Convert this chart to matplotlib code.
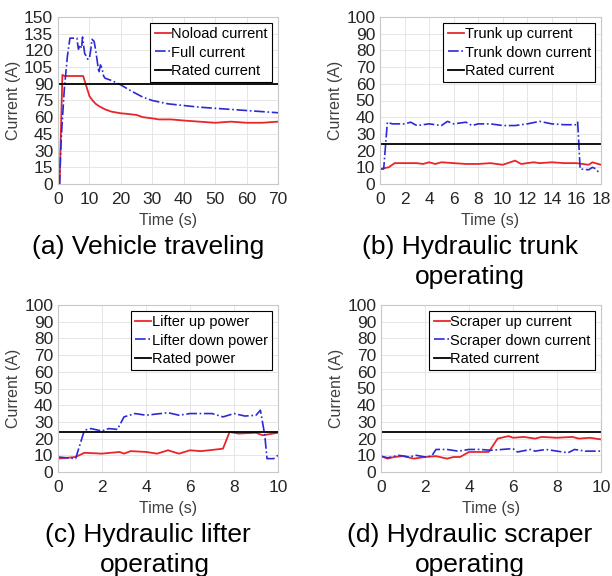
import numpy as np
import matplotlib.pyplot as plt

plt.rcParams['font.family'] = ['Liberation Sans', 'DejaVu Sans']

# (a) vehicle traveling
ta = [0, 0.5, 1.4, 2, 4, 6, 8, 9, 10, 11, 12, 13, 15, 17, 20, 22, 25, 27, 30, 32, 36, 40, 45, 50, 55, 60, 65, 70]
noload = [0, 0, 98, 97, 97, 97, 97, 88, 79, 75, 72, 70, 67, 65, 63.5, 63, 62, 60, 59, 58, 58, 57, 56, 55, 56, 55, 55, 56]
tfull = [0, 0.5, 1, 2, 3, 3.8, 5, 6, 6.5, 7, 7.5, 7.8, 8.5, 9, 9.5, 10, 10.5, 10.8, 11.5, 12, 12.5, 13, 13.5, 14, 14.5, 15, 17, 20, 23, 27, 30, 35, 40, 45, 50, 55, 60, 65, 70]
full = [0, 0, 40, 85, 115, 131, 131, 131, 121, 125, 122, 132, 117, 115, 112, 113, 122, 130, 128, 120, 110, 100, 107, 104, 97, 95, 93, 89, 84, 78, 75, 72, 70.5, 69, 68, 67, 66, 65, 64]

# (b) hydraulic trunk
tb_up = [0, 0.7, 1.2, 2, 3, 3.5, 4, 4.5, 5, 6, 7, 8, 9, 10, 11, 11.5, 12, 12.5, 13, 14, 15, 16, 16.5, 17, 17.3, 18]
trunk_up = [9, 10, 12.5, 12.5, 12.5, 12, 13, 12, 13, 12.5, 12, 12, 12.5, 11.5, 14, 12, 12.5, 13, 12.5, 13, 12.5, 12.5, 12, 11.5, 13, 11.5]
tb_dn = [0, 0.3, 0.6, 1, 2, 2.5, 3, 4, 5, 5.5, 6, 7, 7.5, 8, 9, 10, 11, 12, 13, 14, 15, 16, 16.1, 16.3, 17, 17.3, 17.6, 17.8]
trunk_dn = [9, 9, 37, 36, 36, 37, 35, 36, 35, 37.5, 36, 37, 35, 36, 36, 35, 35, 36, 37.5, 36, 35.5, 35.5, 37, 9, 8.5, 10, 9, 7]

# (c) hydraulic lifter
tc_up = [0, 0.8, 1.2, 2, 2.8, 3, 3.3, 4, 4.5, 5, 5.5, 6, 6.5, 7.2, 7.5, 7.8, 8.2, 9, 9.3, 10]
lifter_up = [8, 9, 11.5, 11, 12, 11, 12.5, 12, 11, 13, 11, 13, 12.5, 13.5, 14, 24, 23, 23.5, 22, 23.5]
tc_dn = [0, 0.8, 1.2, 1.5, 2, 2.3, 2.7, 3, 3.5, 4, 5, 5.5, 6, 7, 7.5, 8, 8.5, 9, 9.2, 9.4, 9.5, 9.8, 10]
lifter_dn = [9, 8, 25, 26, 24.5, 26, 25.5, 33, 35, 34, 35.5, 34, 35, 35, 33, 35, 33.5, 34, 37, 22, 8, 8, 10]

# (d) hydraulic scraper
td_up = [0, 0.3, 0.6, 1, 1.5, 2, 2.5, 3, 3.3, 3.6, 4, 4.5, 4.9, 5.3, 5.8, 6, 6.5, 7, 7.3, 8, 8.7, 9, 9.5, 10]
scraper_up = [9.5, 8, 9, 9.5, 8, 9, 9.5, 8, 9, 9, 12, 12, 12, 20, 21.5, 20.5, 21, 20, 21, 20.5, 21, 20, 20.5, 19.5]
td_dn = [0, 0.3, 0.8, 1.3, 1.6, 2, 2.3, 2.5, 3, 3.5, 4, 4.5, 5, 5.5, 6, 6.2, 6.8, 7, 7.5, 8, 8.5, 8.8, 9.3, 10]
scraper_dn = [9.5, 8.5, 10, 9, 10, 9, 9.5, 13.5, 13.5, 12.5, 13.5, 13.5, 13, 13.5, 14, 12, 13.5, 12.5, 13.5, 12.5, 11.5, 13.5, 12.5, 12.5]

RED = '#e8262a'
BLUE = '#2b2bd6'
W, H = 612, 576

fig = plt.figure(figsize=(6.12, 5.76), dpi=100)


def make_ax(x0, y0, x1, y1):
    return fig.add_axes([x0 / W, 1 - y1 / H, (x1 - x0) / W, (y1 - y0) / H])


def style(ax, xlim, xticks, ylim, yticks):
    ax.set_xlim(*xlim)
    ax.set_ylim(*ylim)
    ax.set_xticks(xticks)
    ax.set_yticks(yticks)
    ax.grid(True, color='#e6e6e6', lw=0.7)
    ax.set_axisbelow(True)
    ax.tick_params(labelsize=12.5, colors='#262626', length=0)
    ax.tick_params(axis='x', pad=6)
    ax.tick_params(axis='y', pad=3.5)
    for s in ax.spines.values():
        s.set_color('#c8c8c8')
        s.set_linewidth(0.8)
    ax.set_xlabel('Time (s)', fontsize=11.5, color='#404040', labelpad=4)
    ax.set_ylabel('Current (A)', fontsize=11.5, color='#404040', labelpad=2)


def legend(ax, labels):
    leg = ax.legend(labels, loc='upper right', fontsize=10.5, handlelength=1.1,
                    handletextpad=0.05, borderpad=0.3, labelspacing=0.3,
                    framealpha=1, fancybox=False, borderaxespad=0.4)
    leg.get_frame().set_edgecolor('black')
    leg.get_frame().set_linewidth(0.8)


# (a)
ax = make_ax(58, 17, 278, 184)
ax.plot(ta, noload, color=RED, lw=1.3)
ax.plot(tfull, full, color=BLUE, lw=1.2, ls='-.')
ax.axhline(90, color='black', lw=1.3)
style(ax, (0, 70), np.arange(0, 71, 10), (0, 150), np.arange(0, 151, 15))
legend(ax, ['Noload current', 'Full current', 'Rated current'])

# (b)
ax = make_ax(380, 17, 601, 184)
ax.plot(tb_up, trunk_up, color=RED, lw=1.3)
ax.plot(tb_dn, trunk_dn, color=BLUE, lw=1.2, ls='-.')
ax.axhline(24, color='black', lw=1.3)
style(ax, (0, 18), np.arange(0, 19, 2), (0, 100), np.arange(0, 101, 10))
legend(ax, ['Trunk up current', 'Trunk down current', 'Rated current'])

# (c)
ax = make_ax(58, 305, 278, 472)
ax.plot(tc_up, lifter_up, color=RED, lw=1.3)
ax.plot(tc_dn, lifter_dn, color=BLUE, lw=1.2, ls='-.')
ax.axhline(24, color='black', lw=1.3)
style(ax, (0, 10), np.arange(0, 11, 2), (0, 100), np.arange(0, 101, 10))
legend(ax, ['Lifter up power', 'Lifter down power', 'Rated power'])

# (d)
ax = make_ax(381, 305, 601, 472)
ax.plot(td_up, scraper_up, color=RED, lw=1.3)
ax.plot(td_dn, scraper_dn, color=BLUE, lw=1.2, ls='-.')
ax.axhline(24, color='black', lw=1.3)
style(ax, (0, 10), np.arange(0, 11, 2), (0, 100), np.arange(0, 101, 10))
legend(ax, ['Scraper up current', 'Scraper down current', 'Rated current'])

# captions (positions are baselines)
fs = 19
kw = dict(ha='center', va='baseline', fontsize=fs)
fig.text(148 / W, 1 - 254 / H, '(a) Vehicle traveling', **kw)
fig.text(470 / W, 1 - 254 / H, '(b) Hydraulic trunk', **kw)
fig.text(470 / W, 1 - 284 / H, 'operating', **kw)
fig.text(148 / W, 1 - 542 / H, '(c) Hydraulic lifter', **kw)
fig.text(155 / W, 1 - 572 / H, 'operating', **kw)
fig.text(470 / W, 1 - 542 / H, '(d) Hydraulic scraper', **kw)
fig.text(470 / W, 1 - 572 / H, 'operating', **kw)

fig.savefig('out.png', dpi=100)
